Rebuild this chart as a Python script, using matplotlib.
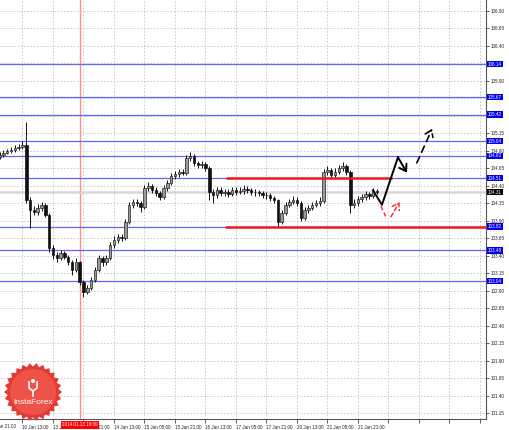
import numpy as np
import matplotlib
matplotlib.use("Agg")
import matplotlib.pyplot as plt
from matplotlib.patches import Polygon

plt.rcParams["font.family"] = ["Liberation Sans", "DejaVu Sans"]

# ---------------- data ----------------
# 2-hour bars, x measured in trading hours from 9 Jan 21:00
bar_hours = list(range(4, 204, 2))
first_open = 104.82
closes = [104.84, 104.87, 104.90, 104.91, 104.94, 104.96, 104.99, 104.20, 104.06, 104.03,
          104.09, 104.13, 103.99, 103.51, 103.41, 103.37, 103.44, 103.39, 103.31, 103.20,
          103.31, 103.03, 102.89, 102.94, 103.06, 103.20, 103.37, 103.31, 103.37, 103.56,
          103.63, 103.67, 103.66, 103.89, 104.13, 104.17, 104.16, 104.10, 104.37, 104.40,
          104.34, 104.30, 104.24, 104.37, 104.44, 104.54, 104.57, 104.60, 104.59, 104.80,
          104.83, 104.73, 104.70, 104.71, 104.66, 104.31, 104.27, 104.34, 104.30, 104.31,
          104.29, 104.34, 104.31, 104.33, 104.36, 104.34, 104.31, 104.31, 104.30, 104.27,
          104.27, 104.23, 104.20, 103.89, 104.01, 104.13, 104.17, 104.20, 104.16, 103.94,
          104.06, 104.09, 104.13, 104.16, 104.19, 104.60, 104.63, 104.56, 104.60, 104.66,
          104.69, 104.60, 104.13, 104.16, 104.21, 104.24, 104.29, 104.26, 104.33, 104.31]
highs = [104.88, 104.91, 104.93, 104.95, 104.98, 105.00, 105.04, 105.31, 104.24, 104.12,
         104.14, 104.17, 104.16, 104.02, 103.55, 103.45, 103.48, 103.47, 103.42, 103.34,
         103.37, 103.33, 103.06, 102.99, 103.10, 103.24, 103.42, 103.40, 103.41, 103.60,
         103.68, 103.72, 103.71, 103.93, 104.17, 104.22, 104.21, 104.19, 104.41, 104.45,
         104.43, 104.38, 104.33, 104.41, 104.48, 104.58, 104.62, 104.64, 104.64, 104.84,
         104.89, 104.86, 104.76, 104.75, 104.74, 104.69, 104.36, 104.39, 104.38, 104.36,
         104.35, 104.39, 104.38, 104.38, 104.41, 104.40, 104.37, 104.35, 104.34, 104.33,
         104.31, 104.30, 104.26, 104.22, 104.05, 104.17, 104.22, 104.25, 104.24, 104.18,
         104.10, 104.13, 104.17, 104.20, 104.24, 104.64, 104.68, 104.66, 104.65, 104.70,
         104.74, 104.72, 104.63, 104.21, 104.26, 104.29, 104.33, 104.32, 104.37, 104.36]
lows = [104.79, 104.81, 104.85, 104.87, 104.88, 104.91, 104.93, 104.16, 103.80, 103.98,
        103.99, 104.04, 103.95, 103.46, 103.36, 103.32, 103.34, 103.35, 103.27, 103.13,
        103.17, 102.98, 102.81, 102.85, 102.91, 103.03, 103.17, 103.26, 103.27, 103.34,
        103.52, 103.59, 103.61, 103.63, 103.86, 104.09, 104.11, 104.03, 104.07, 104.33,
        104.30, 104.26, 104.20, 104.21, 104.33, 104.41, 104.50, 104.53, 104.55, 104.56,
        104.76, 104.69, 104.66, 104.66, 104.62, 104.20, 104.16, 104.23, 104.26, 104.26,
        104.24, 104.25, 104.27, 104.28, 104.29, 104.30, 104.27, 104.26, 104.25, 104.23,
        104.22, 104.19, 104.16, 103.81, 103.85, 103.98, 104.10, 104.14, 104.12, 103.90,
        103.91, 104.02, 104.05, 104.10, 104.12, 104.16, 104.55, 104.52, 104.53, 104.57,
        104.62, 104.56, 104.01, 104.08, 104.12, 104.17, 104.20, 104.22, 104.23, 104.28]
opens = [first_open] + closes[:-1]

level_prices = [106.14, 105.67, 105.42, 105.04, 104.83, 104.51, 103.82, 103.48, 103.04]
current_price = 104.31

first_tick_hour = 0
first_tick_label = "9 Jan 21:00"
tick_hours = [16, 32, 48, 64, 80, 96, 112, 128, 144, 160, 176, 192, 208, 224, 240, 256]
tick_labels = ["10 Jan 13:00", "13 Jan 05:00", "13 Jan 21:00", "14 Jan 13:00",
               "15 Jan 05:00", "15 Jan 21:00", "16 Jan 13:00", "17 Jan 05:00", "17 Jan 21:00",
               "20 Jan 13:00", "21 Jan 05:00", "21 Jan 21:00", "", "", "", ""]
marker_hour = 46
marker_label = "2014.01.13 19:00"

# drawn analysis lines
res_line = ([122.8, 209.9], [104.51, 104.51])
sup_line = ([122.3, 259.2], [103.82, 103.82])
solid_path_h = [199.9, 204.6, 213.0, 217.7]
solid_path_p = [104.34, 104.13, 104.81, 104.59]
dash_path_h = [222.9, 231.0]
dash_path_p = [104.73, 105.22]
red_path_h = [204.1, 207.2, 209.3, 213.8]
red_path_p = [104.11, 103.93, 103.96, 104.17]

# ---------------- figure ----------------
W, H = 510, 430
fig = plt.figure(figsize=(W / 100, H / 100), dpi=100)
fig.patch.set_facecolor("white")
ax = fig.add_axes([0, 11 / H, 486 / W, 419 / H])
ax.set_facecolor("white")

ax.set_xlim(4.2, 259.2)
ax.set_ylim(101.071, 107.057)

fs = 3.3
yt = np.round(np.arange(101.15, 106.91, 0.25), 2)
ax.set_yticks(yt)
ax.set_yticklabels(["" if min(abs(v - p) for p in level_prices) < 0.035 else f"{v:.2f}"
                    for v in yt])
ax.set_xticks(tick_hours)
ax.set_xticklabels(tick_labels)
for lbl in ax.get_xticklabels():
    lbl.set_ha("left")
ax.grid(True, ls=(0, (2, 2)), color="#c4c4c4", lw=0.6, zorder=0)
ax.yaxis.tick_right()
ax.tick_params(axis="y", labelsize=fs, length=2, pad=1.5, colors="#222222", width=0.5)
ax.tick_params(axis="x", labelsize=fs, length=3, pad=1.2, colors="#222222", width=0.5)
for s in ["top", "left"]:
    ax.spines[s].set_visible(False)
for s in ["right", "bottom"]:
    ax.spines[s].set_color("#555555")
    ax.spines[s].set_linewidth(0.8)

xtr = ax.get_xaxis_transform()
ax.text(first_tick_hour, -0.011, first_tick_label, transform=xtr, ha="left", va="top",
        fontsize=fs, color="#222222", clip_on=False)

# marker vertical line
ax.axvline(marker_hour, color="#ff8c8c", lw=1.0, zorder=1)

# bid line
ax.axhline(current_price, color="#d8d8d8", lw=1.8, zorder=1)

# level lines
for p in level_prices:
    ax.axhline(p, color="#6464ff", lw=0.9, zorder=2)

# candles
bh = np.array(bar_hours)
o = np.array(opens); c = np.array(closes)
ax.vlines(bh, lows, highs, color="#111111", lw=0.7, zorder=3)
up = c >= o
bot = np.minimum(o, c)
hgt = np.maximum(np.abs(c - o), 0.008)
ax.bar(bh[up], hgt[up], bottom=bot[up], width=1.3, color="#9a9a9a",
       edgecolor="#222222", lw=0.5, zorder=4)
ax.bar(bh[~up], hgt[~up], bottom=bot[~up], width=1.3, color="#111111",
       edgecolor="#111111", lw=0.5, zorder=4)

# analysis lines
ax.plot(*res_line, color="#ee1c1c", lw=1.8, zorder=5, solid_capstyle="butt")
ax.plot(*sup_line, color="#ee1c1c", lw=1.8, zorder=5, solid_capstyle="butt", clip_on=False)
ax.plot(solid_path_h[:-1], solid_path_p[:-1], color="black", lw=1.4, zorder=6)
ax.annotate("", xy=(solid_path_h[-1], solid_path_p[-1]),
            xytext=(solid_path_h[-2], solid_path_p[-2]),
            arrowprops=dict(arrowstyle="->,head_length=0.45,head_width=0.3", color="black",
                            lw=1.4, shrinkA=0, shrinkB=0), zorder=6)
ax.annotate("", xy=(dash_path_h[-1], dash_path_p[-1]),
            xytext=(dash_path_h[0], dash_path_p[0]),
            arrowprops=dict(arrowstyle="->,head_length=0.45,head_width=0.3", color="black",
                            lw=1.2, ls=(0, (4, 3)), shrinkA=0, shrinkB=0), zorder=6)
ax.plot(red_path_h[:2], red_path_p[:2], color="#ff2020", lw=1.0, ls=(0, (3, 2)), zorder=6)
ax.annotate("", xy=(red_path_h[-1], red_path_p[-1]),
            xytext=(red_path_h[2], red_path_p[2]),
            arrowprops=dict(arrowstyle="->,head_length=0.45,head_width=0.3", color="#ff2020",
                            lw=1.0, ls=(0, (3, 2)), shrinkA=0, shrinkB=0), zorder=6)

# right-side price labels
ytr = ax.get_yaxis_transform()
for p in level_prices:
    ax.text(1.004, p, f"{p:.2f}", transform=ytr, ha="left", va="center", fontsize=fs,
            color="white", zorder=10, clip_on=False,
            bbox=dict(boxstyle="square,pad=0.15", fc="#0000ee", ec="none"))
ax.text(1.004, current_price, f"{current_price:.2f}", transform=ytr, ha="left", va="center",
        fontsize=fs, color="white", zorder=10, clip_on=False,
        bbox=dict(boxstyle="square,pad=0.15", fc="black", ec="none"))

# time marker label
ax.text(marker_hour, -0.008, marker_label, transform=xtr, ha="center", va="top", fontsize=fs,
        color="white", zorder=10, clip_on=False,
        bbox=dict(boxstyle="square,pad=0.3", fc="#ff0000", ec="none"))

# logo overlay in pixel space
ov = fig.add_axes([0, 0, 1, 1], facecolor="none")
ov.set_xlim(0, W); ov.set_ylim(H, 0); ov.axis("off")
cx, cy = 33, 392
n = 26
ang = np.linspace(0, 2 * np.pi, 2 * n, endpoint=False)
rad = np.where(np.arange(2 * n) % 2 == 0, 29, 25.5)
star = Polygon(np.c_[cx + rad * np.cos(ang), cy + rad * np.sin(ang)], closed=True,
               fc="#e23b35", ec="none", zorder=20)
ov.add_patch(star)
circ = plt.Circle((cx, cy), 23, fc="#ee5248", ec="none", zorder=21)
ov.add_patch(circ)
ov.plot([cx - 4, cx - 4, cx, cx + 4, cx + 4], [cy - 10, cy - 4, cy - 1, cy - 4, cy - 10],
        color="white", lw=1.2, zorder=22)
ov.plot([cx, cx], [cy - 1, cy + 4], color="white", lw=1.2, zorder=22)
ov.add_patch(plt.Circle((cx, cy - 11), 2.0, fc="white", ec="none", zorder=22))
ov.text(cx, cy + 11, "InstaForex", ha="center", va="center", fontsize=6, color="white",
        zorder=23)

fig.savefig("out.png", dpi=100, facecolor="white")
